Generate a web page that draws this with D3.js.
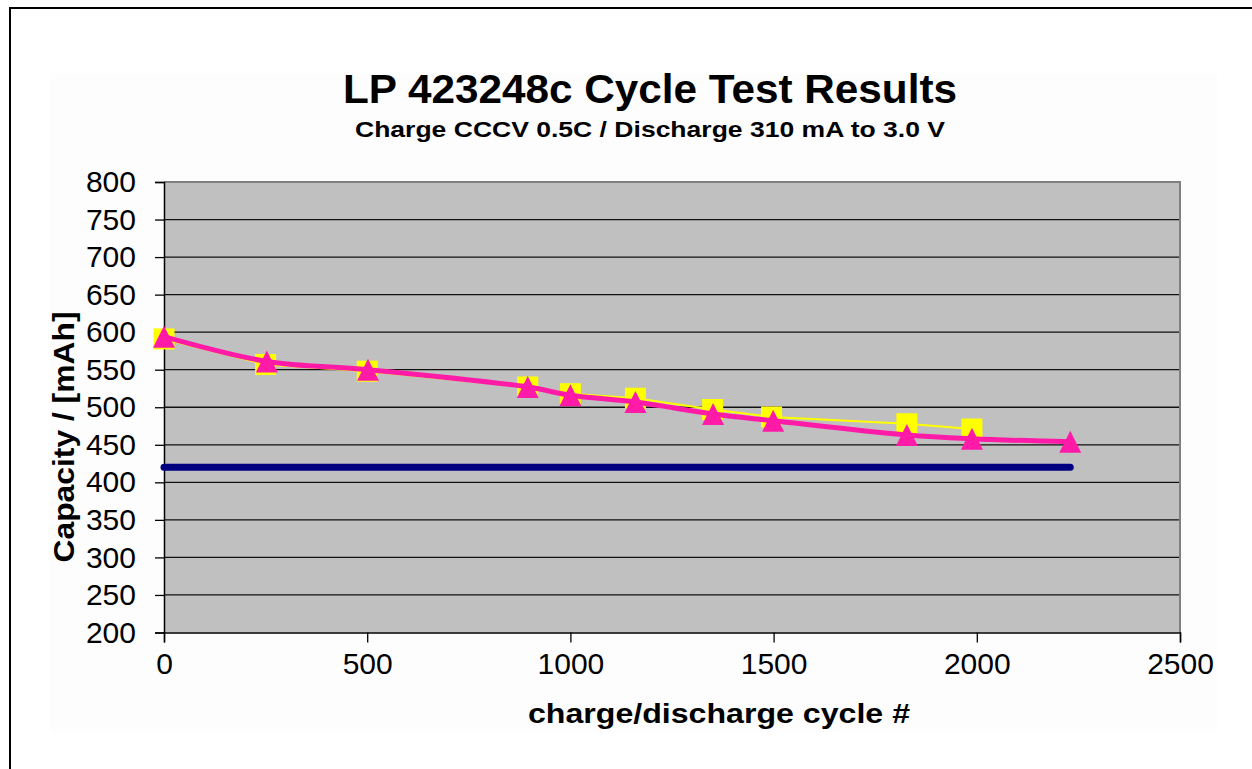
<!DOCTYPE html>
<html>
<head>
<meta charset="utf-8">
<script src="https://cdn.jsdelivr.net/npm/d3@7"></script>
<style>
html,body{margin:0;padding:0;background:#fff;}
svg{display:block;font-family:"Liberation Sans",Arial,sans-serif;}
</style>
</head>
<body>
<svg id="chart" width="1252" height="769"></svg>
<script>
// ---- data ----
const titleText = "LP 423248c  Cycle Test Results";
const subtitleText = "Charge CCCV 0.5C / Discharge 310 mA to 3.0 V";
const xTitle = "charge/discharge cycle #";
const yTitle = "Capacity / [mAh]";
const xTicks = [0, 500, 1000, 1500, 2000, 2500];
const yTicks = [200, 250, 300, 350, 400, 450, 500, 550, 600, 650, 700, 750, 800];

const cyclesA = [0, 250, 500, 895, 1000, 1160, 1350, 1495, 1828, 1988];
const capacityA = [591, 557, 548, 527, 518, 512, 497, 487, 478, 471];

const cyclesB = [0, 253, 502, 895, 1000, 1160, 1351, 1499, 1828, 1988, 2230];
const capacityB = [594, 561, 550, 527, 516, 507, 491, 482, 463, 458, 454];

const limitCycles = [0, 2230];
const limitCapacity = [420, 420];

// ---- layout ----
const svg = d3.select("#chart");
const L = 164, R = 1180, T = 182, B = 632.5;
const x = d3.scaleLinear().domain([0, 2500]).range([L, R]);
const y = d3.scaleLinear().domain([200, 800]).range([B, T]);

// chart area background
svg.append("rect").attr("x", 50).attr("y", 73).attr("width", 1167).attr("height", 659).attr("fill", "#fdfdfd");
// outer frame (left + top visible)
svg.append("path").attr("d", "M10,769 L10,8 L1252,8").attr("fill", "none").attr("stroke", "#000").attr("stroke-width", 2);

// plot area
svg.append("rect").attr("x", L).attr("y", T).attr("width", R - L).attr("height", B - T).attr("fill", "#c0c0c0");

// gridlines
svg.append("g").selectAll("line").data(yTicks.slice(1)).join("line")
  .attr("x1", L).attr("x2", R).attr("y1", d => y(d)).attr("y2", d => y(d))
  .attr("stroke", "#111").attr("stroke-width", 1.3);

// plot border right/top
svg.append("path").attr("d", `M${L},${T} L${R},${T} L${R},${B}`).attr("fill", "none").attr("stroke", "#808080").attr("stroke-width", 2);

// axes
const yAxis = d3.axisLeft(y).tickValues(yTicks).tickSize(9).tickPadding(19).tickFormat(d3.format("d"));
const gy = svg.append("g").attr("transform", `translate(${L},0)`).call(yAxis);
gy.select(".domain").attr("stroke", "#000").attr("stroke-width", 1.5);
gy.selectAll(".tick line").attr("stroke", "#000").attr("stroke-width", 1.3);
gy.selectAll("text").attr("font-size", 30).attr("fill", "#000").attr("font-family", "Liberation Sans, Arial, sans-serif");

const xAxis = d3.axisBottom(x).tickValues(xTicks).tickSize(10).tickPadding(10).tickFormat(d3.format("d"));
const gx = svg.append("g").attr("transform", `translate(0,${B})`).call(xAxis);
gx.select(".domain").attr("stroke", "#000").attr("stroke-width", 1.5);
gx.selectAll(".tick line").attr("stroke", "#000").attr("stroke-width", 1.3);
gx.selectAll("text").attr("font-size", 30).attr("fill", "#000").attr("font-family", "Liberation Sans, Arial, sans-serif");

// series
const ptsA = cyclesA.map((c, i) => [c, capacityA[i]]);
const ptsB = cyclesB.map((c, i) => [c, capacityB[i]]);
const ptsL = limitCycles.map((c, i) => [c, limitCapacity[i]]);

svg.append("path").datum(ptsL)
  .attr("d", d3.line().x(d => x(d[0])).y(d => y(d[1])))
  .attr("fill", "none").attr("stroke", "#000080").attr("stroke-width", 7).attr("stroke-linecap", "round");

svg.append("path").datum(ptsA)
  .attr("d", d3.line().x(d => x(d[0])).y(d => y(d[1])))
  .attr("fill", "none").attr("stroke", "#ffff00").attr("stroke-width", 2);

svg.append("g").selectAll("rect").data(ptsA).join("rect")
  .attr("x", d => x(d[0]) - 10.5).attr("y", d => y(d[1]) - 10.5)
  .attr("width", 21).attr("height", 21).attr("fill", "#ffff00");

const pink = "#ff1aa8";
svg.append("path").datum(ptsB)
  .attr("d", d3.line().x(d => x(d[0])).y(d => y(d[1])).curve(d3.curveCatmullRom.alpha(0.5)))
  .attr("fill", "none").attr("stroke", pink).attr("stroke-width", 5);

svg.append("g").selectAll("path").data(ptsB).join("path")
  .attr("transform", d => `translate(${x(d[0])},${y(d[1])})`)
  .attr("d", "M0,-11 L11,11 L-11,11 Z").attr("fill", pink);

// titles
svg.append("text").attr("x", 650).attr("y", 103).attr("text-anchor", "middle")
  .attr("font-size", 41).attr("font-weight", "bold").attr("textLength", 614).attr("lengthAdjust", "spacingAndGlyphs")
  .text(titleText);
svg.append("text").attr("x", 650).attr("y", 137).attr("text-anchor", "middle")
  .attr("font-size", 22).attr("font-weight", "bold").attr("textLength", 590).attr("lengthAdjust", "spacingAndGlyphs")
  .text(subtitleText);
svg.append("text").attr("x", 719).attr("y", 723).attr("text-anchor", "middle")
  .attr("font-size", 27).attr("font-weight", "bold").attr("textLength", 382).attr("lengthAdjust", "spacingAndGlyphs")
  .text(xTitle);
svg.append("text").attr("transform", "translate(74,437) rotate(-90)").attr("text-anchor", "middle")
  .attr("font-size", 29).attr("font-weight", "bold").attr("textLength", 251).attr("lengthAdjust", "spacingAndGlyphs")
  .text(yTitle);
</script>
</body>
</html>
